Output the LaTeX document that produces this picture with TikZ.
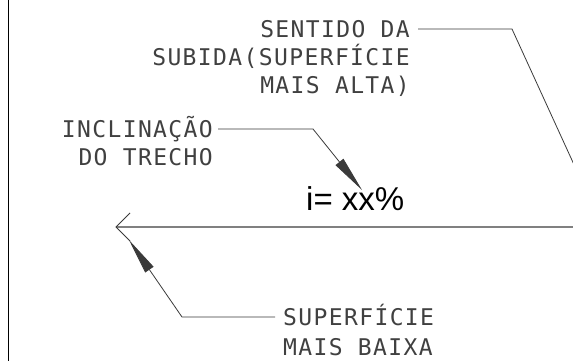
\documentclass[tikz,border=0pt]{standalone}
\usepackage{fontspec}
\usepackage{tikz}
\usetikzlibrary{arrows.meta}
\newfontfamily\cadfont[LetterSpace=6]{DejaVu Sans Mono}
\newfontfamily\slopefont{Liberation Sans}
\definecolor{linegray}{HTML}{808080}
\definecolor{leadergray}{HTML}{3A3A3A}
\definecolor{textgray}{HTML}{404040}

\begin{document}
\begin{tikzpicture}[x=1pt,y=-1pt,
                    cad node/.style={inner sep=0pt,text=textgray,font=\cadfont\fontsize{23}{28}\selectfont},
                    leader/.style={draw=leadergray,line width=0.8pt},
                    fat arrow/.style={-{Triangle[length=36pt,width=10pt]}}]
  \useasboundingbox (0,0) rectangle (573,361);
  \draw[line width=1pt] (8,0) -- (8,361);

  % base anchors sit on the last line
  \node[cad node,align=right,anchor=base east] (sentido) at (410,93)
    {SENTIDO DA\\SUBIDA(SUPERFÍCIE\\MAIS ALTA)};
  \node[cad node,align=right,anchor=base east] (inclinacao) at (213,165)
    {INCLINAÇÃO\\DO TRECHO};
  \node[cad node,align=left,anchor=base west,font=\cadfont\fontsize{23}{30}\selectfont] (superficie) at (283,355)
    {SUPERFÍCIE\\MAIS BAIXA};
  \node[inner sep=0pt,anchor=base west,font=\slopefont\fontsize{33}{38}\selectfont] (slope) at (306,210) {i= xx\%};

  \coordinate (lowEnd) at (116,227);
  \coordinate (highEnd) at (573,227);
  \draw[draw=linegray,line width=1.4pt] (highEnd) -- (lowEnd);
  \draw[leader] ([shift={(14,-14)}]lowEnd) -- (lowEnd) -- ([shift={(14,14)}]lowEnd);

  \draw[leader] ([shift={(8,-64)}]sentido.base east) -- (512,29) -- (576,169);
  \draw[leader,fat arrow] ([shift={(5,-36)}]inclinacao.base east) -- (313,129) -- (362,190);
  \draw[leader,fat arrow] ([shift={(-8,-38)}]superficie.base west) -- (182,317) -- ([shift={(13,13)}]lowEnd);
\end{tikzpicture}
\end{document}
